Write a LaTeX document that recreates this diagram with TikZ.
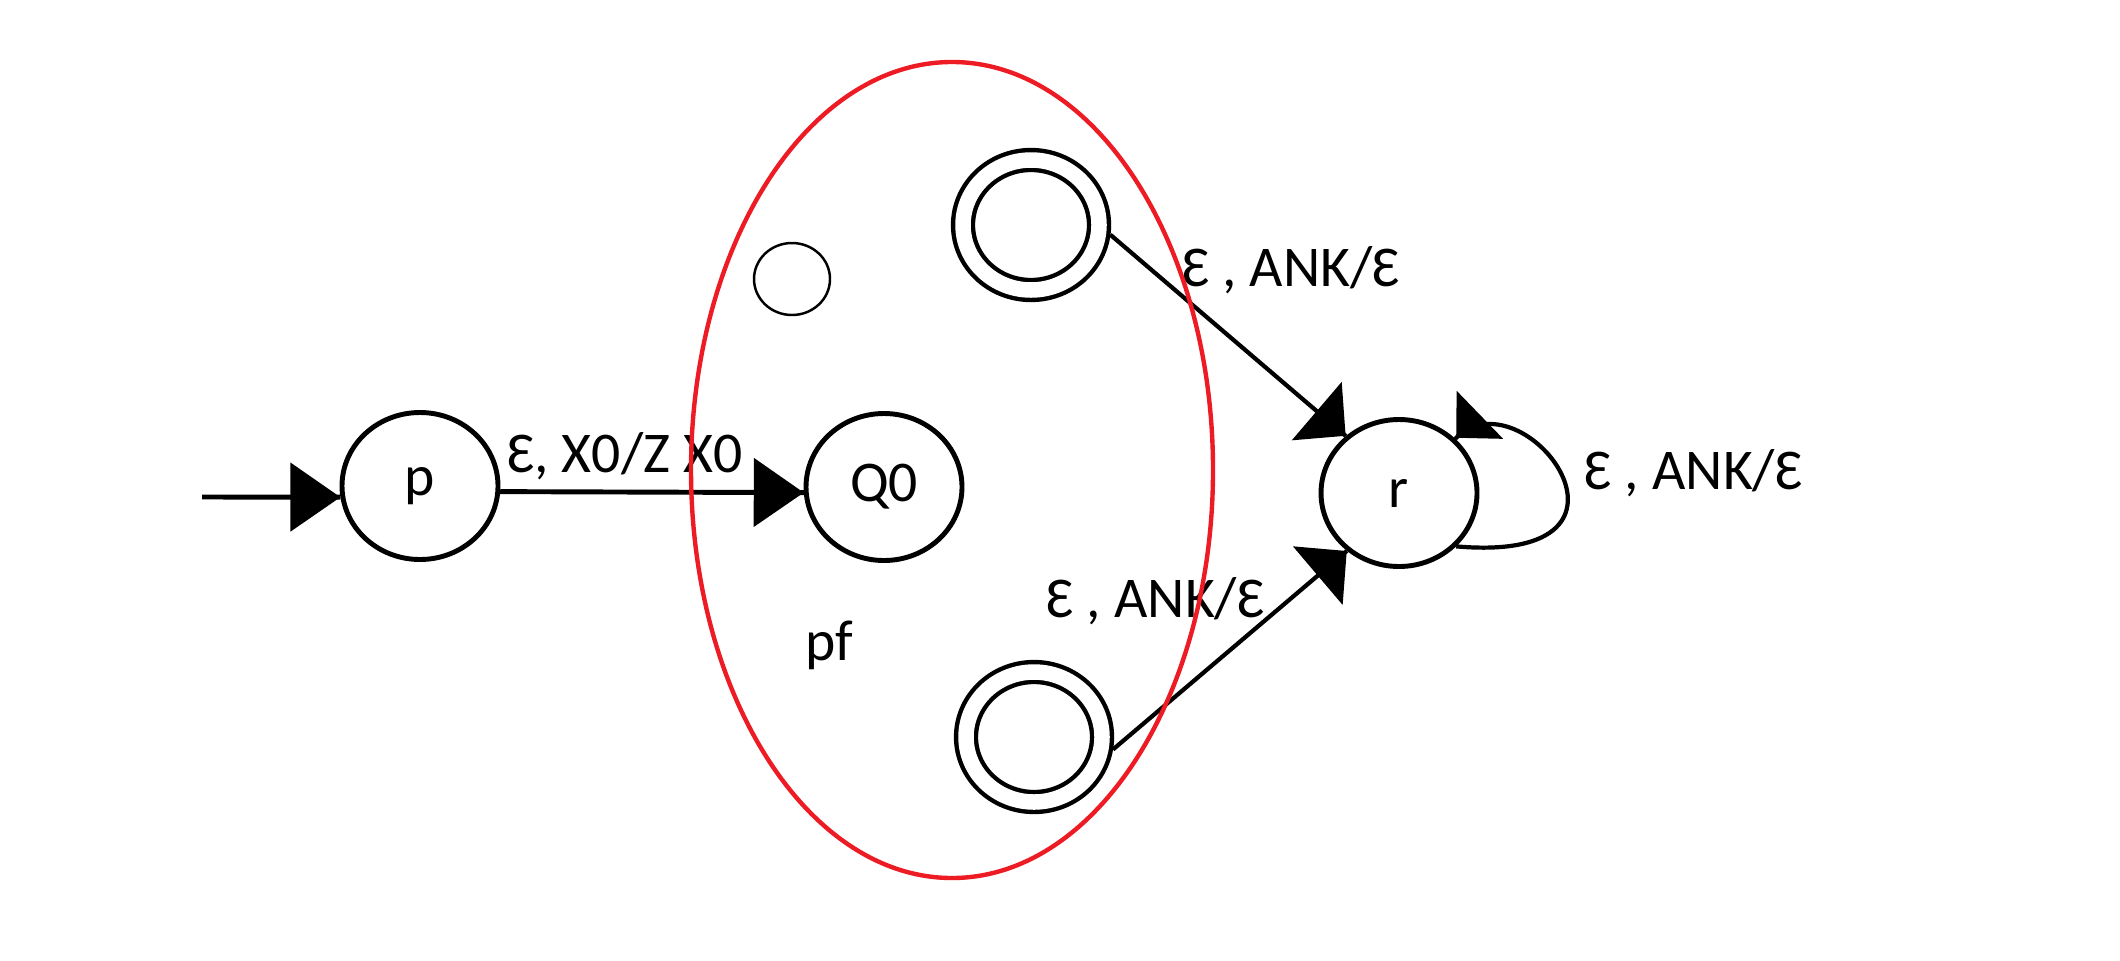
\documentclass[tikz,border=0pt]{standalone}
\usepackage{fontspec}
\setmainfont{Carlito}
\usetikzlibrary{calc,decorations.markings}
\usetikzlibrary{arrows.meta}
\usetikzlibrary{shapes.geometric}

\definecolor{paintred}{RGB}{237,28,36}

\tikzset{
  pstate/.style={draw, ellipse, line width=1.4pt, minimum width=1.56cm, minimum height=1.47cm,
    inner sep=0pt, font=\fontsize{16.4}{19}\selectfont},
  pacc/.style={draw, ellipse, double, double distance=0.155cm, line width=1.25pt,
    minimum width=1.36cm, minimum height=1.30cm, inner sep=0pt, outer sep=0.12cm},
  lbl/.style={anchor=base, inner sep=0pt, font=\fontsize{16.4}{19}\selectfont},
  bighead/.style={decoration={markings, mark=at position 1 with {\arrow{Triangle[length=0.5cm,width=0.68cm]}}},
    postaction={decorate}},
  slanthead/.style={decoration={markings, mark=at position 1 with {\arrow{Triangle[length=0.38cm,width=0.76cm]}}},
    postaction={decorate}},
  loophead/.style={decoration={markings, mark=at position 0.995 with {\arrow{Triangle[length=0.33cm,width=0.66cm]}}},
    postaction={decorate}}
}

\begin{document}
\begin{tikzpicture}
\useasboundingbox (0,0) rectangle (21.2,9.6);

\node[pstate] (p) at (4.20,4.74) {p};
\node[pstate] (Q0) at (8.84,4.73) {Q0};
\node[pstate] (r) at (13.99,4.67) {r};
\node[pacc] (f1) at (10.31,7.35) {}; % final
\node[pacc] (f2) at (10.34,2.23) {}; % final
\node[draw, ellipse, line width=0.7pt, minimum width=0.76cm, minimum height=0.72cm] (q1) at (7.92,6.81) {};
\coordinate (start) at (2.02,4.63);

\node[lbl] (lpq) at (6.25,4.88) {Ɛ, X0/Z X0};
\node[lbl] (ltop) at (12.91,6.74) {Ɛ , ANK/Ɛ};
\node[lbl] (lbot) at (11.555,3.43) {Ɛ , ANK/Ɛ};
\node[lbl] (lloop) at (16.935,4.71) {Ɛ , ANK/Ɛ};
\node[lbl] (pf) at (8.29,3.00) {pf};

% initial
\draw[line width=1.4pt, bighead] (start) -- (p.188);
\draw[line width=1.4pt, bighead] (p.-4) -- (Q0.184);

\draw[line width=1.2pt, slanthead] (f1.-7) -- (r.133);
\draw[line width=1.2pt, slanthead] (f2.-9) -- (r.-132);

% loop on r
\draw[line width=1.2pt, loophead]
      (r.-43) .. controls (16.7,3.95) and (15.23,5.9) .. (r.44);

% the set pf
\draw[paintred, line width=1.25pt] (9.52,4.90) ellipse [x radius=2.61, y radius=4.08];
\end{tikzpicture}
\end{document}
